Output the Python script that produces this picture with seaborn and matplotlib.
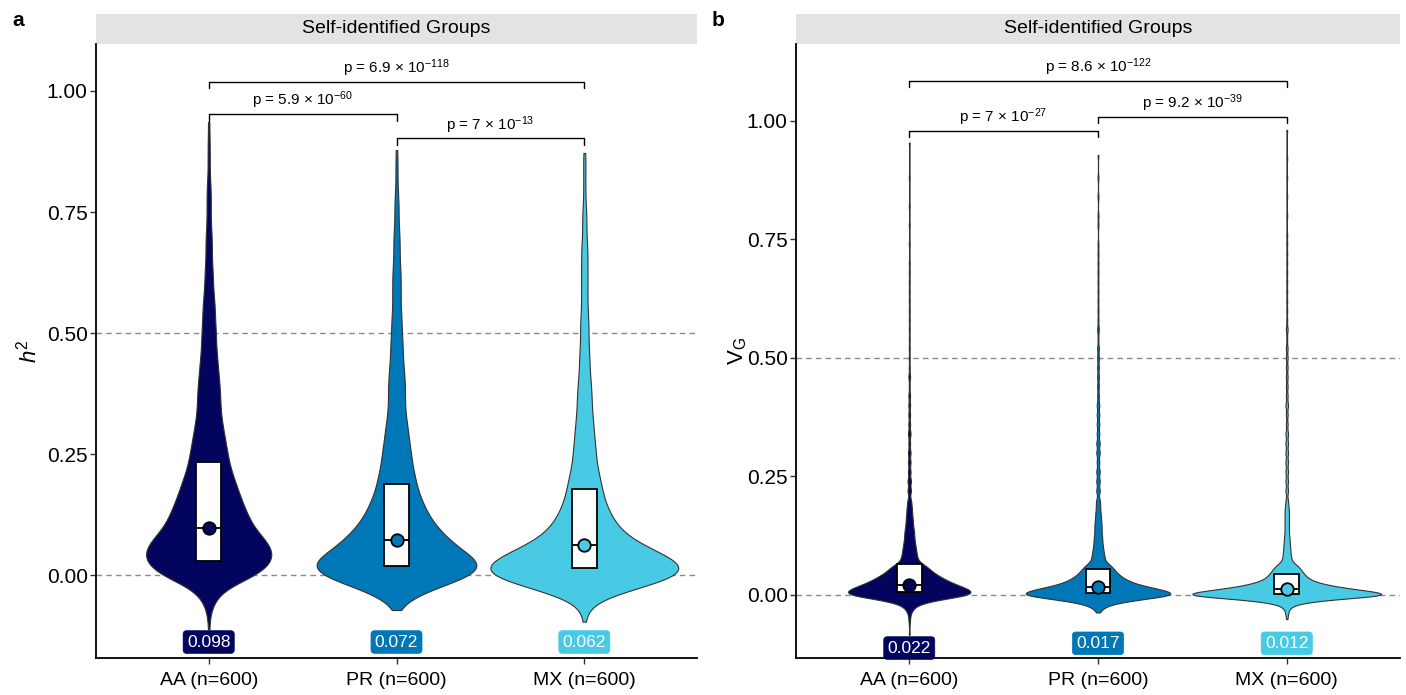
import numpy as np
import pandas as pd
import matplotlib
matplotlib.use("Agg")
import matplotlib.pyplot as plt
import seaborn as sns
from matplotlib.patches import Rectangle
from matplotlib.ticker import FormatStrFormatter

# ---------------- data ----------------
groups = ["AA (n=600)", "PR (n=600)", "MX (n=600)"]
colors = ["#03045E", "#0077B6", "#48CAE4"]

# panel a (h2): value bins and counts per group (600 estimates each)
h2_bins = [-0.100, -0.075, -0.050, -0.025, 0.000, 0.025, 0.050, 0.075, 0.100, 0.125,
           0.150, 0.175, 0.200, 0.225, 0.250, 0.275, 0.300, 0.325, 0.350, 0.375,
           0.400, 0.425, 0.450, 0.475, 0.500, 0.525, 0.550, 0.575, 0.600, 0.625,
           0.650, 0.675, 0.700, 0.725, 0.750, 0.775, 0.800, 0.825, 0.850, 0.875,
           0.900, 0.925]
h2_counts_AA = [0, 2, 6, 16, 47, 60, 62, 53, 42, 37, 32, 28, 24, 20, 18, 16, 14, 12, 11, 11,
                10, 9, 8, 7, 7, 6, 6, 5, 4, 4, 3, 3, 3, 2, 2, 2, 2, 1, 1, 1, 1, 0]
h2_counts_PR = [0, 0, 10, 38, 76, 83, 63, 49, 38, 30, 25, 20, 18, 15, 14, 12, 11, 9, 8, 8,
                8, 7, 6, 6, 5, 5, 4, 4, 4, 4, 3, 3, 3, 2, 2, 2, 1, 1, 1, 0, 0, 0]
h2_counts_MX = [0, 2, 12, 53, 96, 94, 68, 44, 32, 25, 20, 17, 15, 12, 11, 10, 9, 8, 7, 7,
                6, 5, 5, 4, 4, 4, 3, 3, 3, 3, 3, 3, 2, 2, 2, 1, 1, 1, 1, 0, 0, 0]
h2_min = [-0.112, -0.072, -0.096]
h2_max = [0.936, 0.878, 0.872]
h2_q1 = [0.029, 0.019, 0.015]
h2_median = [0.098, 0.072, 0.062]
h2_q3 = [0.234, 0.189, 0.178]
h2_pairs = [(0, 1), (1, 2), (0, 2)]
h2_p_mant = ["5.9", "7", "6.9"]
h2_p_exp = ["-60", "-13", "-118"]

# panel b (VG)
vg_bins = [-0.08, -0.07, -0.06, -0.05, -0.04, -0.03, -0.02, -0.01, 0.00, 0.01,
           0.02, 0.03, 0.04, 0.05, 0.06, 0.07, 0.08, 0.09, 0.10, 0.11,
           0.12, 0.13, 0.14, 0.15, 0.16, 0.17, 0.18, 0.19, 0.20,
           0.22, 0.24, 0.26, 0.28, 0.30, 0.32, 0.34, 0.36, 0.38, 0.40, 0.42,
           0.44, 0.46, 0.48, 0.50, 0.52, 0.54, 0.56, 0.58, 0.60, 0.62, 0.64, 0.66, 0.68, 0.70,
           0.72, 0.74, 0.76, 0.78, 0.80, 0.82, 0.84, 0.86, 0.88, 0.90, 0.92, 0.94, 0.96]
vg_counts_AA = [0, 0, 1, 1, 2, 5, 12, 39, 89, 87,
                68, 53, 41, 31, 25, 13, 11, 10, 9, 8,
                7, 7, 6, 5, 5, 4, 4, 3, 3,
                4, 4, 3, 3, 3, 2, 3, 2, 2, 2, 2,
                1, 2, 1, 1, 1, 1, 1, 1, 1, 1, 1, 1, 1, 1,
                0, 1, 0, 1, 0, 1, 0, 0, 1, 0, 0, 0, 0]
vg_counts_PR = [0, 0, 0, 0, 0, 5, 15, 53, 115, 94,
                59, 41, 31, 24, 20, 10, 9, 8, 7, 6,
                6, 5, 5, 5, 4, 4, 3, 3, 3,
                4, 4, 4, 3, 4, 4, 3, 3, 3, 3, 2,
                2, 2, 2, 2, 2, 1, 2, 1, 1, 1, 1, 1, 1, 1,
                1, 1, 0, 1, 1, 0, 1, 0, 1, 0, 0, 0, 0]
vg_counts_MX = [0, 0, 0, 0, 2, 3, 9, 48, 168, 103,
                57, 34, 26, 21, 17, 7, 6, 5, 5, 4,
                4, 3, 3, 3, 3, 3, 3, 2, 2,
                3, 3, 3, 3, 3, 3, 3, 2, 2, 3, 2,
                2, 2, 2, 2, 2, 1, 2, 1, 1, 1, 1, 1, 1, 1,
                1, 1, 1, 0, 1, 0, 1, 0, 1, 0, 1, 0, 0]
vg_min = [-0.084, -0.037, -0.051]
vg_max = [0.954, 0.928, 0.981]
vg_q1 = [0.0057, 0.0036, 0.002]
vg_median = [0.022, 0.017, 0.012]
vg_q3 = [0.065, 0.054, 0.0436]
vg_pairs = [(0, 1), (1, 2), (0, 2)]
vg_p_mant = ["7", "9.2", "8.6"]
vg_p_exp = ["-27", "-39", "-122"]

# ---------------- style ----------------
sns.set_theme(style="ticks")
plt.rcParams["font.family"] = ["Liberation Sans", "DejaVu Sans"]
plt.rcParams["mathtext.fontset"] = "custom"
plt.rcParams["mathtext.rm"] = "Liberation Sans"
plt.rcParams["mathtext.it"] = "Liberation Sans:italic"
plt.rcParams["mathtext.bf"] = "Liberation Sans:bold"
plt.rcParams["text.color"] = "black"
plt.rcParams["axes.labelcolor"] = "black"

W, H = 1406, 695
fig = plt.figure(figsize=(W / 100, H / 100), dpi=100)


def build(bins, counts_list, mins, maxs):
    rows = []
    for g, c, lo, hi in zip(groups, counts_list, mins, maxs):
        vals = np.concatenate([[lo], np.repeat(bins, c), [hi]])
        rows.append(pd.DataFrame({"group": g, "value": vals}))
    return pd.concat(rows, ignore_index=True)


def draw_panel(ax, df, bw, q1, med, q3, ylim, label_y, pairs, mant, exps, br_y,
               ylabel, ylabel_x):
    def bw_fn(kde):
        return bw / np.std(kde.dataset, ddof=1)

    ax.axhline(0, color="#8a8a8a", lw=1.0, dashes=(4, 3), zorder=0.5)
    ax.axhline(0.5, color="#8a8a8a", lw=1.0, dashes=(4, 3), zorder=0.5)

    sns.violinplot(data=df, x="group", y="value", hue="group", order=groups,
                   hue_order=groups, palette=colors, saturation=1, inner=None,
                   cut=0, gridsize=1500, bw_method=bw_fn, density_norm="area",
                   common_norm=True, width=1.0, linewidth=0.8, linecolor="#333333",
                   legend=False, ax=ax)

    box_df = pd.DataFrame({
        "group": np.repeat(groups, 5),
        "value": np.concatenate([[a, a, m, b, b] for a, m, b in zip(q1, med, q3)]),
    })
    sns.boxplot(data=box_df, x="group", y="value", order=groups, color="white",
                saturation=1, width=0.13, whis=0, showcaps=False, showfliers=False,
                linewidth=1.3, linecolor="black", ax=ax,
                whiskerprops={"visible": False})

    sns.stripplot(x=groups, y=med, hue=groups, order=groups, hue_order=groups,
                  palette=colors, jitter=False, size=9, edgecolor="black",
                  linewidth=1.3, legend=False, ax=ax, zorder=6)

    for i, (m, c) in enumerate(zip(med, colors)):
        ax.text(i, label_y[i], f"{m:.3f}", ha="center", va="center", color="white",
                fontsize=12.5, zorder=7,
                bbox=dict(boxstyle="round,pad=0.22,rounding_size=0.2", fc=c, ec=c, lw=0.5))

    tick = 0.013
    for (a, b), mt, ex, y in zip(pairs, mant, exps, br_y):
        ax.plot([a, a, b, b], [y - tick, y, y, y - tick], color="black", lw=1.0,
                clip_on=False, zorder=6)
        ax.text((a + b) / 2, y + 0.006,
                f"p = {mt} $\\times$ 10$^{{{ex.replace('-', '−')}}}$",
                ha="center", va="bottom", fontsize=11)

    ax.set_xlim(-0.6, 2.6)
    ax.set_ylim(*ylim)
    ax.set_yticks([0, 0.25, 0.5, 0.75, 1.0])
    ax.yaxis.set_major_formatter(FormatStrFormatter("%.2f"))
    ax.set_xlabel("")
    ax.set_ylabel(ylabel, fontsize=16)
    ax.yaxis.set_label_coords(ylabel_x, 0.5)
    ax.tick_params(axis="y", labelsize=15, length=4, width=1, color="#333333",
                   labelcolor="black", pad=2)
    ax.tick_params(axis="x", labelsize=14, length=4, width=1, color="#333333",
                   labelcolor="black", pad=6)
    for s in ["top", "right"]:
        ax.spines[s].set_visible(False)
    for s in ["left", "bottom"]:
        ax.spines[s].set_linewidth(1.3)
        ax.spines[s].set_color("black")

    sh = 30 / 614
    ax.add_patch(Rectangle((0, 1), 1, sh, transform=ax.transAxes, clip_on=False,
                           fc="#E3E3E3", ec="none"))
    ax.text(0.5, 1 + sh / 2, "Self-identified Groups", transform=ax.transAxes,
            ha="center", va="center", fontsize=14)


bottom = 1 - 658 / H
height = (658 - 44) / H
ax_a = fig.add_axes([96 / W, bottom, (697 - 96) / W, height])
ax_b = fig.add_axes([796 / W, bottom, (1400 - 796) / W, height])

df_a = build(h2_bins, [h2_counts_AA, h2_counts_PR, h2_counts_MX], h2_min, h2_max)
df_b = build(vg_bins, [vg_counts_AA, vg_counts_PR, vg_counts_MX], vg_min, vg_max)

draw_panel(ax_a, df_a, 0.02, h2_q1, h2_median, h2_q3, (-0.171, 1.097),
           [-0.138, -0.138, -0.138], h2_pairs, h2_p_mant, h2_p_exp,
           [0.952, 0.902, 1.019], r"$h^2$", -0.09)
draw_panel(ax_b, df_b, 0.007, vg_q1, vg_median, vg_q3, (-0.133, 1.162),
           [-0.112, -0.102, -0.102], vg_pairs, vg_p_mant, vg_p_exp,
           [0.978, 1.009, 1.085], r"$\mathregular{V_G}$", -0.078)

fig.text(18 / W, 1 - 20 / H, "a", fontsize=15, fontweight="bold", ha="center", va="center")
fig.text(718 / W, 1 - 20 / H, "b", fontsize=15, fontweight="bold", ha="center", va="center")

fig.savefig("out.png", dpi=100)
